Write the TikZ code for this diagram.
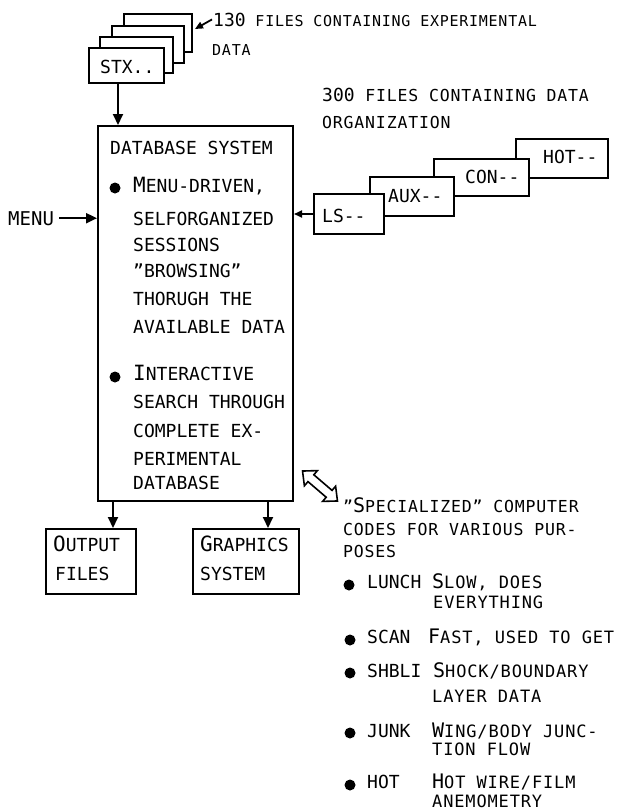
\documentclass[tikz,border=0pt]{standalone}
\usepackage{fontspec}
\setmainfont{DejaVu Sans Mono}
\newfontfamily\scfam{DejaVu Sans Mono}[LetterSpace=5]
\usetikzlibrary{arrows.meta}

% font helpers: size, larger initial letter, spaced small capitals
\newcommand\fsz[1]{\fontsize{#1}{#1}\selectfont}
\newcommand\bigini[2][21]{{\fsz{#1}#2}}
\newcommand\smtxt[2][17]{{\scfam\fsz{#1}#2}}

\tikzset{
  txt/.style={anchor=base west, inner sep=0pt, font=\fsz{18}},
  filebox/.style={draw, line width=2pt, fill=white, inner sep=0pt, anchor=north west},
  conn/.style={line width=2pt, -{Triangle[length=11pt,width=10pt]}},
  thinconn/.style={line width=1.8pt, -{Triangle[length=8pt,width=7pt]}},
  dot/.style={circle, fill, inner sep=0pt, minimum size=11pt},
}

\begin{document}
\begin{tikzpicture}[x=1pt, y=-1pt]
\useasboundingbox (0,0) rectangle (621,811);

% ---- stack of experimental data files ----
\node[filebox, minimum width=68pt, minimum height=38pt] (s4) at (123,13) {};
\node[filebox, minimum width=72pt, minimum height=37pt] (s3) at (111,25) {};
\node[filebox, minimum width=73pt, minimum height=36pt] (s2) at (99,36) {};
\node[filebox, minimum width=75pt, minimum height=35pt] (stx) at (88,47) {};
\node[txt] (stxlab) at (100,73) {STX..};

\node[txt] (l130) at (213,26) {130\smtxt[15]{ FILES CONTAINING EXPERIMENTAL}};
\node[txt] (l130b) at (212,55) {\smtxt[15]{DATA}};
\draw[thinconn] ([xshift=-1pt]l130.west) -- ([shift={(2pt,4pt)}]s4.east);

% ---- database system ----
\node[filebox, minimum width=195pt, minimum height=375pt] (db) at (97,125) {};
\node[txt] (dbtitle) at (110,154) {DATABASE SYSTEM};

\node[dot] (b1) at (115,188) {};
\node[txt] (d1) at (133,192) {\bigini{M}ENU-DRIVEN,};
\node[txt] (d2) at (133,225) {SELFORGANIZED};
\node[txt] (d3) at (133,251) {SESSIONS};
\node[txt] (d4) at (133,277) {”BROWSING”};
\node[txt] (d5) at (133,305) {THORUGH THE};
\node[txt] (d6) at (133,333) {AVAILABLE DATA};

\node[dot] (b2) at (115,377) {};
\node[txt] (e1) at (133,380) {\bigini{I}NTERACTIVE};
\node[txt] (e2) at (133,408) {SEARCH THROUGH};
\node[txt] (e3) at (133,437) {COMPLETE EX-};
\node[txt] (e4) at (133,465) {PERIMENTAL};
\node[txt] (e5) at (133,489) {DATABASE};

\draw[conn] ([xshift=-8.5pt]stx.south) -- ([xshift=-8.5pt]stx.south |- db.north);

% ---- menu input ----
\node[txt, font=\fsz{19}] (menu) at (8,225) {MENU};
\draw[conn] ([xshift=5pt]menu.east) -- (menu.east -| db.west);

% ---- data organization files ----
\node[txt] (l300) at (322,101) {300\smtxt[16.5]{ FILES CONTAINING DATA}};
\node[txt] (l300b) at (322,128) {\smtxt[16.5]{ORGANIZATION}};

\node[filebox, minimum width=92pt, minimum height=39pt] (hot) at (515,138) {};
\node[filebox, minimum width=95pt, minimum height=37pt] (con) at (433,158) {};
\node[filebox, minimum width=84pt, minimum height=39pt] (aux) at (369,176) {};
\node[filebox, minimum width=70pt, minimum height=40pt] (ls) at (313,193) {};
\node[txt] (hotlab) at (543,163) {HOT-{}-};
\node[txt] (conlab) at (465,183) {CON-{}-};
\node[txt] (auxlab) at (388,202) {AUX-{}-};
\node[txt] (lslab) at (322,222) {LS-{}-};
\draw[thinconn] (ls.west) -- (ls.west -| db.east);

% ---- outputs ----
\node[filebox, minimum width=90pt, minimum height=65pt] (out) at (45,528) {};
\node[filebox, minimum width=106pt, minimum height=65pt] (gfx) at (192,528) {};
\node[txt] (out1) at (53,551) {\bigini{O}UTPUT};
\node[txt] (out2) at (55,580) {FILES};
\node[txt] (gfx1) at (200,551) {\bigini{G}RAPHICS};
\node[txt] (gfx2) at (200,580) {SYSTEM};
\draw[conn] ([xshift=16pt]db.south west) -- ([xshift=16pt]db.south west |- out.north);
\draw[conn] ([xshift=-26pt]db.south east) -- ([xshift=-26pt]db.south east |- gfx.north);

% ---- two-way exchange with the specialized codes ----
\begin{scope}[shift={(320,486)}, rotate=-40.6]
  \draw[line width=1.6pt, fill=white, line join=miter]
    (-23,0) -- (-12,10) -- (-12,4.5) -- (12,4.5) -- (12,10) -- (23,0)
    -- (12,-10) -- (12,-4.5) -- (-12,-4.5) -- (-12,-10) -- cycle;
\end{scope}

\node[txt] (c1) at (343,512) {\smtxt[16.5]{”}\bigini[20]{S}\smtxt[16.5]{PECIALIZED” COMPUTER}};
\node[txt] (c2) at (343,535) {\smtxt[16.5]{CODES FOR VARIOUS PUR-}};
\node[txt] (c3) at (343,557) {\smtxt[16.5]{POSES}};

\node[dot] (p1) at (349,585) {};
\node[txt] (k1) at (367,588) {LUNCH};
\node[txt] (k1a) at (432,588) {\bigini[20]{S}\smtxt{LOW, DOES}};
\node[txt] (k1b) at (433,608) {\smtxt{EVERYTHING}};

\node[dot] (p2) at (350,640) {};
\node[txt] (k2) at (367,643) {SCAN};
\node[txt] (k2a) at (428,643) {\bigini[20]{F}\smtxt{AST, USED TO GET}};

\node[dot] (p3) at (350,673) {};
\node[txt] (k3) at (367,677) {SHBLI};
\node[txt] (k3a) at (433,677) {\bigini[20]{S}\smtxt{HOCK/BOUNDARY}};
\node[txt] (k3b) at (432,702) {\smtxt{LAYER DATA}};

\node[dot] (p4) at (350,733) {};
\node[txt] (k4) at (367,737) {JUNK};
\node[txt] (k4a) at (432,737) {\bigini[20]{W}\smtxt{ING/BODY JUNC-}};
\node[txt] (k4b) at (432,755) {\smtxt{TION FLOW}};

\node[dot] (p5) at (350,785) {};
\node[txt] (k5) at (367,788) {HOT};
\node[txt] (k5a) at (432,788) {\bigini[20]{H}\smtxt{OT WIRE/FILM}};
\node[txt] (k5b) at (432,807) {\smtxt{ANEMOMETRY}};
\end{tikzpicture}
\end{document}
